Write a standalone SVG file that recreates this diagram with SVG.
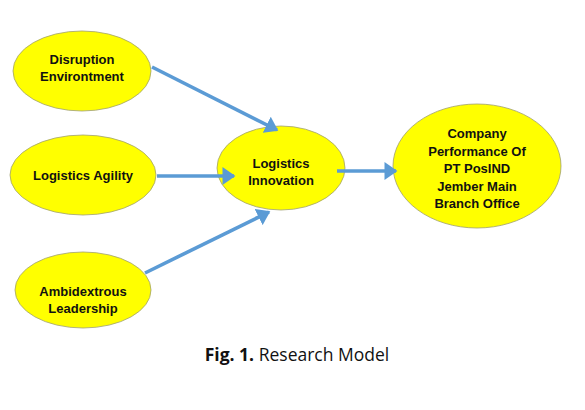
<svg xmlns="http://www.w3.org/2000/svg" width="585" height="410" viewBox="0 0 585 410">
<style>
.n ellipse{fill:#FFFF00;stroke:#A0A070;stroke-width:0.8}
.n text{font-family:"Liberation Sans",Arial,sans-serif;font-weight:bold;font-size:13px;text-anchor:middle;fill:#111}
.c line{stroke:#5B9BD5;stroke-width:3.6;marker-end:url(#ah)}
.cap{font-family:"Open Sans","Liberation Sans",sans-serif;font-size:17.5px;fill:#111}
</style>
<defs>
<marker id="ah" markerWidth="5" markerHeight="5" refX="3.2" refY="2.5" orient="auto" markerUnits="strokeWidth">
<path d="M0,0 L3.6,2.5 L0,5 Z" fill="#5B9BD5"/>
</marker>
</defs>
<rect width="585" height="410" fill="#fff"/>
<g id="n-disruption" class="n">
<ellipse cx="82" cy="71" rx="69" ry="40"/>
<text x="82" y="64">Disruption</text>
<text x="82" y="81">Environtment</text>
</g>
<g id="n-agility" class="n">
<ellipse cx="83" cy="175" rx="73" ry="40"/>
<text x="83" y="180">Logistics Agility</text>
</g>
<g id="n-ambi" class="n">
<ellipse cx="83" cy="290" rx="68" ry="38"/>
<text x="83" y="296">Ambidextrous</text>
<text x="83" y="313">Leadership</text>
</g>
<g id="n-innovation" class="n">
<ellipse cx="281" cy="168" rx="64" ry="42"/>
<text x="281" y="168">Logistics</text>
<text x="281" y="185">Innovation</text>
</g>
<g id="n-company" class="n">
<ellipse cx="477" cy="166" rx="84" ry="62"/>
<text x="477" y="138">Company</text>
<text x="477" y="155.5">Performance Of</text>
<text x="477" y="173">PT PosIND</text>
<text x="477" y="190.5">Jember Main</text>
<text x="477" y="208">Branch Office</text>
</g>
<g id="connectors" class="c">
<line x1="152" y1="67" x2="277" y2="130"/>
<line x1="157" y1="176" x2="234" y2="176"/>
<line x1="145" y1="273" x2="269" y2="212"/>
<line x1="337" y1="171" x2="396" y2="171"/>
</g>
<text class="cap" x="297" y="361" text-anchor="middle"><tspan font-weight="bold">Fig. 1.</tspan> Research Model</text>
</svg>
